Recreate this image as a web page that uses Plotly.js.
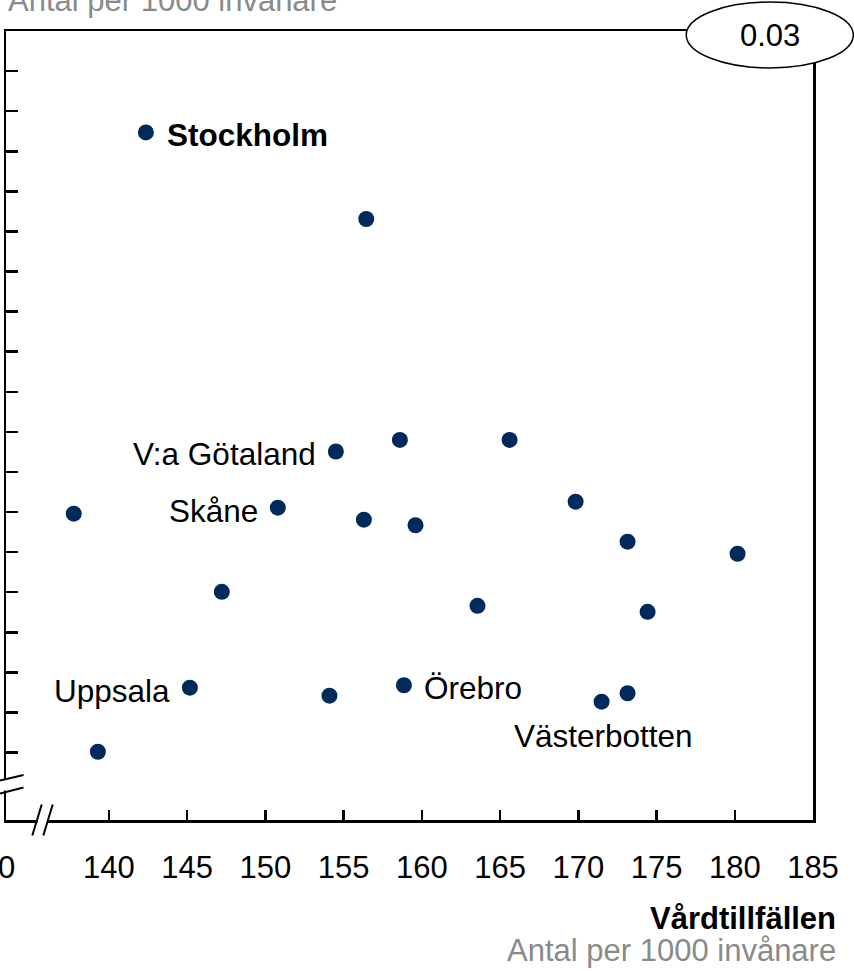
<!DOCTYPE html>
<html>
<head>
<meta charset="utf-8">
<script src="https://cdn.plot.ly/plotly-3.0.1.min.js"></script>
<style>html,body{margin:0;padding:0;background:#fff;}#chart{width:854px;height:971px;}</style>
</head>
<body>
<div id="chart"></div>
<script>
// ---- data ----
var vardtillfallen = [142.37, 156.45, 154.51, 158.6, 165.61, 150.80, 137.76, 156.30, 159.60, 169.83, 173.15, 180.18, 147.22, 163.56, 174.43, 145.18, 154.10, 158.86, 171.49, 173.15, 139.30];
var yValues = [16.47, 14.31, 8.51, 8.80, 8.80, 7.11, 6.96, 6.81, 6.67, 7.26, 6.26, 5.96, 5.01, 4.66, 4.51, 2.62, 2.42, 2.68, 2.27, 2.48, 1.02];
var regionNames = ["Stockholm", "", "V:a Götaland", "", "", "Skåne", "", "", "", "", "", "", "", "", "", "Uppsala", "", "Örebro", "Västerbotten", "", ""];
var xAxisStart = 133.43;
var xTickVals = [140, 145, 150, 155, 160, 165, 170, 175, 180, 185];
var xTickText = ["140", "145", "150", "155", "160", "165", "170", "175", "180", "185"];
var xStartLabel = "0";
var yTickVals = [1, 2, 3, 4, 5, 6, 7, 8, 9, 10, 11, 12, 13, 14, 15, 16, 17, 18];
var correlationText = "0.03";
var xTitle = "Vårdtillfällen";
var unitText = "Antal per 1000 invånare";

// ---- layout geometry ----
var W = 854, H = 971;
var L = 6, R = 41.3, T = 31, B = 150.5;
var PW = W - L - R, PH = H - T - B;
function px(x) { return (x - L) / PW; }
function py(y) { return (H - B - y) / PH; }

var FONT = "Liberation Sans, Arial, Helvetica, sans-serif";
var labelStyle = {
  "Stockholm":    {xanchor: "left",   xshift: 19,  yshift: -3, bold: true},
  "V:a Götaland": {xanchor: "right",  xshift: -18, yshift: -2},
  "Skåne":        {xanchor: "right",  xshift: -18, yshift: -3},
  "Uppsala":      {xanchor: "right",  xshift: -18, yshift: -3},
  "Örebro":       {xanchor: "left",   xshift: 18,  yshift: -3},
  "Västerbotten": {xanchor: "center", xshift: 2,   yshift: -34}
};

var annotations = [];
regionNames.forEach(function (n, i) {
  if (!n) return;
  var s = labelStyle[n];
  annotations.push({
    x: vardtillfallen[i], y: yValues[i], xref: "x", yref: "y",
    text: s.bold ? "<b>" + n + "</b>" : n, showarrow: false,
    xanchor: s.xanchor, yanchor: "middle", xshift: s.xshift, yshift: s.yshift,
    font: {family: FONT, size: 31.5, color: "#000"}
  });
});
// label for the broken axis origin, placed like a tick label
annotations.push({x: xAxisStart, xref: "x", yref: "paper", y: py(868), xanchor: "center", yanchor: "middle",
  text: xStartLabel, showarrow: false, font: {family: FONT, size: 31, color: "#000"}});
annotations.push({xref: "paper", yref: "paper", x: px(6), y: py(0), xanchor: "left", yanchor: "middle",
  text: unitText, showarrow: false, font: {family: FONT, size: 31, color: "#8a8a8a"}});
annotations.push({xref: "paper", yref: "paper", x: px(838), y: py(919), xanchor: "right", yanchor: "middle",
  text: "<b>" + xTitle + "</b>", showarrow: false, font: {family: FONT, size: 31, color: "#000"}});
annotations.push({xref: "paper", yref: "paper", x: px(838), y: py(951), xanchor: "right", yanchor: "middle",
  text: unitText, showarrow: false, font: {family: FONT, size: 31, color: "#8a8a8a"}});
annotations.push({xref: "paper", yref: "paper", x: px(769.5), y: py(35.5), xanchor: "center", yanchor: "middle",
  text: correlationText, showarrow: false, font: {family: FONT, size: 31, color: "#000"}});

function pline(x0, y0, x1, y1, color, w) {
  return {type: "line", xref: "paper", yref: "paper", x0: px(x0), y0: py(y0), x1: px(x1), y1: py(y1),
    line: {color: color, width: w}, layer: "above"};
}
function prect(x0, y0, x1, y1) {
  return {type: "rect", xref: "paper", yref: "paper", x0: px(x0), y0: py(y0), x1: px(x1), y1: py(y1),
    line: {width: 0}, fillcolor: "#fff", layer: "above"};
}
var shapes = [
  {type: "circle", xref: "paper", yref: "paper", x0: px(686), x1: px(853), y0: py(68), y1: py(2),
    line: {color: "#000", width: 1.5}, fillcolor: "#fff", layer: "above"},
  prect(1, 780.5, 11, 791),
  pline(0, 781, 23.5, 775.5, "#000", 2),
  pline(0, 794, 23.5, 788, "#000", 2),
  prect(37.5, 815, 47.5, 826),
  pline(32.3, 836, 41.7, 805, "#000", 2),
  pline(43.3, 836, 52.7, 805, "#000", 2)
];

var trace = {
  type: "scatter", mode: "markers",
  x: vardtillfallen, y: yValues, text: regionNames,
  marker: {size: 16, color: "#002a5c", line: {width: 0}},
  hoverinfo: "x+y+text", cliponaxis: false
};

var layout = {
  width: W, height: H,
  margin: {l: L, r: R, t: T, b: B, pad: 0},
  paper_bgcolor: "#fff", plot_bgcolor: "#fff",
  showlegend: false,
  font: {family: FONT, size: 31, color: "#000"},
  xaxis: {
    range: [xAxisStart, 185], tickmode: "array", tickvals: xTickVals, ticktext: xTickText,
    ticks: "inside", ticklen: 10, tickwidth: 2.5, tickcolor: "#000",
    showline: true, linecolor: "#000", linewidth: 2.5, mirror: true,
    showgrid: false, zeroline: false, fixedrange: true,
    tickfont: {family: FONT, size: 31, color: "#000"}, ticklabelstandoff: 18
  },
  yaxis: {
    range: [-0.682, 19], tickmode: "array", tickvals: yTickVals,
    ticks: "inside", ticklen: 12, tickwidth: 2.5, tickcolor: "#000",
    showticklabels: false,
    showline: true, linecolor: "#000", linewidth: 2.5, mirror: true,
    showgrid: false, zeroline: false, fixedrange: true
  },
  annotations: annotations,
  shapes: shapes
};

Plotly.newPlot("chart", [trace], layout, {displayModeBar: false, staticPlot: true});
</script>
</body>
</html>
